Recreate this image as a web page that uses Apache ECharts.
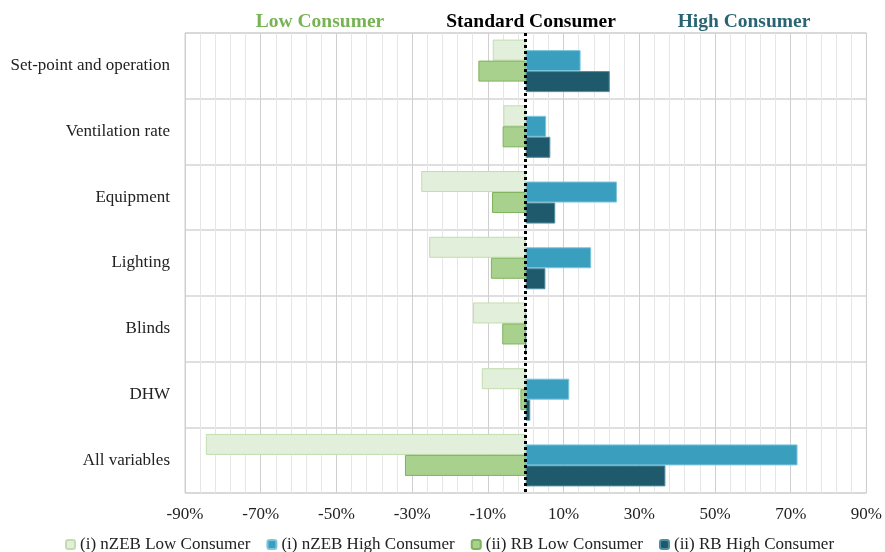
<!DOCTYPE html>
<html>
<head>
<meta charset="utf-8">
<script src="https://cdn.jsdelivr.net/npm/echarts@6/dist/echarts.min.js"></script>
<style>html,body{margin:0;padding:0;background:#fff;}#c{width:885px;height:552px;}</style>
</head>
<body>
<div id="c"></div>
<script>
var categories = ['Set-point and operation', 'Ventilation rate', 'Equipment', 'Lighting', 'Blinds', 'DHW', 'All variables'];
var nzebLow  = [-8.7, -5.9, -27.6, -25.5, -13.9, -11.6, -84.5];
var nzebHigh = [14.5, 5.4, 24.1, 17.3, 0, 11.5, 71.8];
var rbLow    = [-12.5, -6.1, -8.9, -9.2, -6.2, -1.4, -31.9];
var rbHigh   = [22.2, 6.5, 7.8, 5.2, 0, 1.2, 36.9];
var seriesNames = ['(i) nZEB Low Consumer', '(i) nZEB High Consumer', '(ii) RB Low Consumer', '(ii) RB High Consumer'];
var xMin = -90, xMax = 90, xStep = 20;

var font = '"Liberation Serif", "Times New Roman", serif';
var chart = echarts.init(document.getElementById('c'));
function bar(name, data, fill, border, extra) {
  var s = {
    name: name, type: 'bar', data: data, barWidth: 21, barGap: '-50%',
    itemStyle: { color: fill, borderColor: border, borderWidth: 1 },
    emphasis: { disabled: true }
  };
  if (extra) for (var k in extra) s[k] = extra[k];
  return s;
}
chart.setOption({
  animation: false,
  title: [
    { text: 'Low Consumer', left: 315, top: 7, textAlign: 'center', textStyle: { fontFamily: font, fontSize: 19.5, fontWeight: 'bold', color: '#77B255' } },
    { text: 'Standard Consumer', left: 526, top: 7, textAlign: 'center', textStyle: { fontFamily: font, fontSize: 19.5, fontWeight: 'bold', color: '#000' } },
    { text: 'High Consumer', left: 739, top: 7, textAlign: 'center', textStyle: { fontFamily: font, fontSize: 19.5, fontWeight: 'bold', color: '#2A6474' } }
  ],
  legend: {
    top: 531, left: 60, itemWidth: 9, itemHeight: 9, itemGap: 16,
    textStyle: { fontFamily: font, fontSize: 17, color: '#222' },
    data: seriesNames
  },
  grid: { left: 185, right: 15.5, top: 33, bottom: 59, show: true, borderColor: '#d0d0d0', borderWidth: 1 },
  xAxis: {
    type: 'value', min: xMin, max: xMax, interval: xStep,
    axisLine: { show: false }, axisTick: { show: false },
    axisLabel: { formatter: function (v) { return v + '%'; }, fontFamily: font, fontSize: 17, color: '#222', margin: 13 },
    splitLine: { show: true, lineStyle: { color: '#cfcfcf', width: 1 } },
    minorTick: { show: false, splitNumber: 5 },
    minorSplitLine: { show: true, lineStyle: { color: '#e6e6e6', width: 1 } }
  },
  yAxis: {
    type: 'category', data: categories, inverse: true,
    axisLine: { show: false }, axisTick: { show: false },
    axisLabel: { fontFamily: font, fontSize: 17, color: '#222', margin: 15 },
    splitLine: { show: true, lineStyle: { color: '#d4d4d4', width: 1.5 } }
  },
  series: [
    bar(seriesNames[0], nzebLow, '#E2EFDA', '#C3DDB0', {
      markLine: {
        silent: true, symbol: 'none', label: { show: false },
        lineStyle: { color: '#000', type: [3, 3], width: 3 },
        data: [{ xAxis: 0 }], z: 10
      }
    }),
    bar(seriesNames[1], nzebHigh, '#3A9EBF', '#7CC6DC'),
    bar(seriesNames[2], rbLow, '#A9D18E', '#7FB25C'),
    bar(seriesNames[3], rbHigh, '#1F5A6C', '#4F8FA0')
  ]
});
</script>
</body>
</html>
